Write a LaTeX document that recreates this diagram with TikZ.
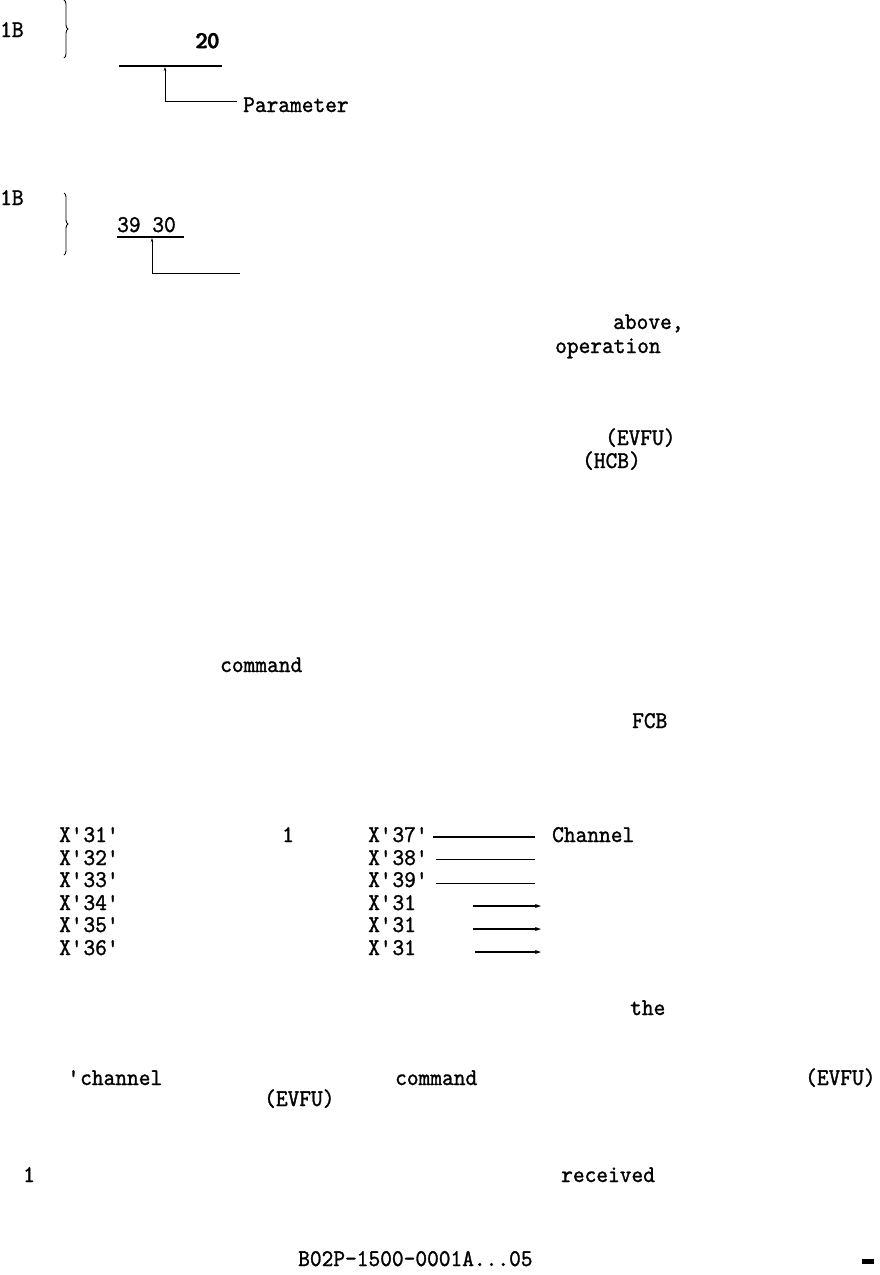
\documentclass[tikz,border=0pt]{standalone}
\usepackage{fontspec}
\newfontfamily\twfont{lmmono10-regular}[Extension=.otf, FakeStretch=0.93, FakeBold=1.2]
\usetikzlibrary{arrows.meta,decorations.pathreplacing}
\tikzset{
  txt/.style={font=\fontsize{24}{28}\selectfont\twfont, inner sep=0pt, anchor=base west},
  rule/.style={line width=1.6pt},
  thinrule/.style={line width=0.9pt},
  leader/.style={line width=1pt},
  arr/.style={line width=1.6pt, -{Stealth[length=6pt,width=4pt]}},
  bracebig/.style={decorate, decoration={brace, amplitude=4pt}, line width=0.9pt}
}
\newcommand{\ap}{\textquotesingle}
\newcommand{\ovs}[1]{\makebox[0pt][l]{#1}\hspace{1pt}#1}
\begin{document}
\begin{tikzpicture}[x=1pt,y=-1pt]
\useasboundingbox (0,0) rectangle (880,1275);
% first group
\node[txt] (oneB1) at (0,37) {1B};
\draw[bracebig] (64,0) -- (64,58);
\node[txt] (twenty) at (195,48) {\ovs{20}};
\coordinate (u1a) at (119,66);
\coordinate (u1b) at (222,66);
\draw[rule] (u1a) -- (u1b);
\node[txt] (param) at (243,112) {Parameter};
\coordinate (p1) at (237,101);
\coordinate (p1top) at (165,67);
\draw[leader, -{Stealth[length=4pt,width=2.5pt]}] (p1) -| (p1top);
% second group
\node[txt] (oneB2) at (0,205) {1B};
\draw[bracebig] (64,193) -- (64,255);
\node[txt] (val) at (117,232) {39 30};
\coordinate (u2a) at (117,237);
\coordinate (u2b) at (184,237);
\draw[line width=2pt] (u2a) -- (u2b);
\coordinate (p2) at (240,273);
\coordinate (p2top) at (152,238);
\draw[leader, -{Stealth[length=4pt,width=2.5pt]}] (p2) -| (p2top);
% scattered words
\node[txt] (above) at (613,329) {above,};
\node[txt] (operation) at (555,353) {operation};
\node[txt] (evfu1) at (605,445) {(EVFU)};
\node[txt] (hcb) at (582,468) {(HCB)};
\node[txt] (cmd1) at (220,672) {command};
\node[txt] (fcb) at (632,728) {FCB};
% list
\node[txt] (l1) at (59,842) {X\ap31\ap};
\node[txt] (l2) at (59,865) {X\ap32\ap};
\node[txt] (l3) at (59,887) {X\ap33\ap};
\node[txt] (l4) at (59,910) {X\ap34\ap};
\node[txt] (l5) at (59,932) {X\ap35\ap};
\node[txt] (l6) at (59,955) {X\ap36\ap};
\node[txt] (one) at (282,842) {1};
\node[txt] (r1) at (368,842) {X\ap37\ap};
\node[txt] (r2) at (368,865) {X\ap38\ap};
\node[txt] (r3) at (368,887) {X\ap39\ap};
\node[txt] (r4) at (368,910) {X\ap31};
\node[txt] (r5) at (368,932) {X\ap31};
\node[txt] (r6) at (368,955) {X\ap31};
\node[txt] (chan) at (552,842) {Channel};
\coordinate (a1) at (433,837); \coordinate (b1) at (535,837);
\coordinate (a2) at (436,859); \coordinate (b2) at (535,859);
\coordinate (a3) at (436,883); \coordinate (b3) at (535,883);
\coordinate (a4) at (473,906); \coordinate (b4) at (541,906);
\coordinate (a5) at (473,929); \coordinate (b5) at (541,929);
\coordinate (a6) at (475,952); \coordinate (b6) at (541,952);
\draw[rule] (a1) -- (b1);
\draw[thinrule] (a2) -- (b2);
\draw[thinrule] (a3) -- (b3);
\draw[arr] (a4) -- (b4);
\draw[arr] (a5) -- (b5);
\draw[arr] (a6) -- (b6);
% lower words
\node[txt] (the) at (630,1015) {the};
\node[txt] (chan2) at (80,1085) {\makebox[0pt][r]{\ap}channel};
\node[txt] (cmd2) at (395,1085) {command};
\node[txt] (evfu2) at (805,1085) {(EVFU)};
\node[txt] (evfu3) at (264,1106) {(EVFU)};
\node[txt] (one2) at (23,1182) {1};
\node[txt] (recv) at (561,1182) {received};
\node[txt] (foot) at (298,1266) {B02P-1500-0001A...05};
\fill (862,1259) rectangle (874,1264);
\end{tikzpicture}
\end{document}
